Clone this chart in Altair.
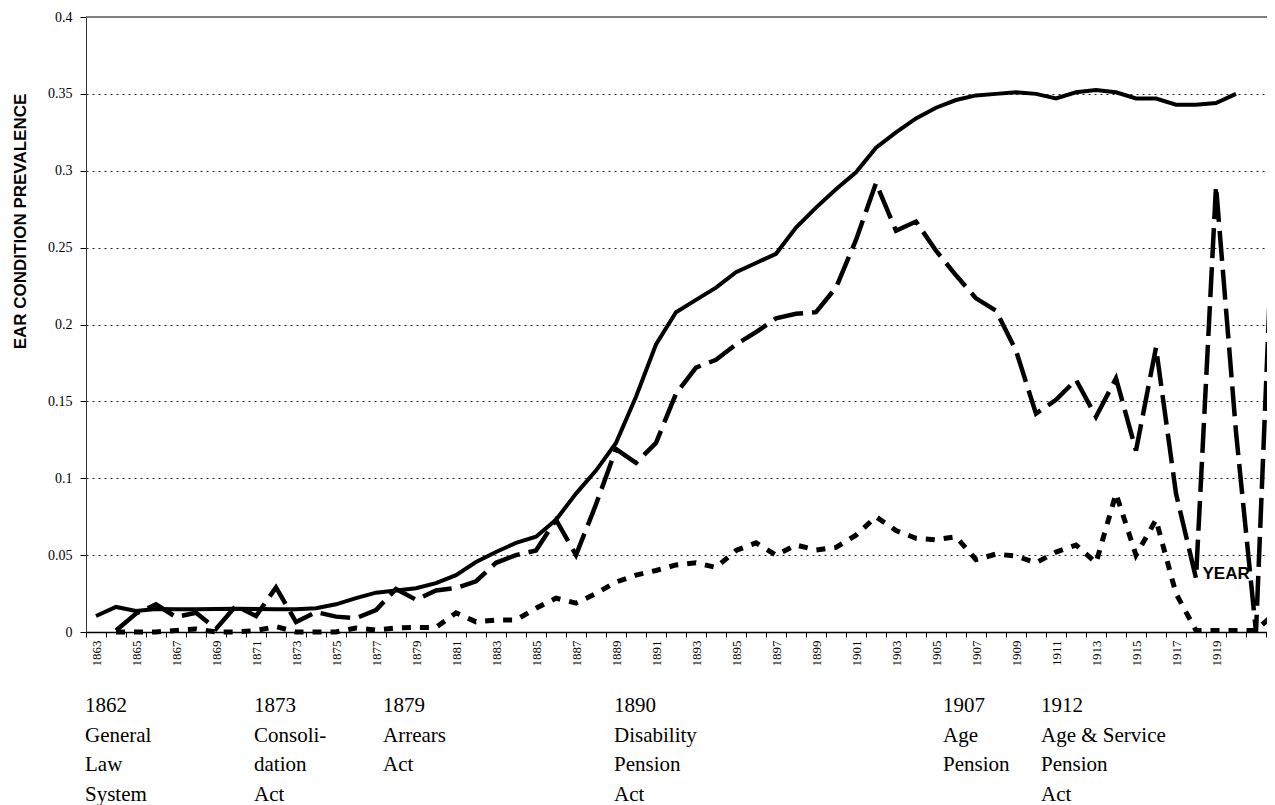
import altair as alt
import pandas as pd

# ---------------- data ----------------
years = list(range(1863, 1923))

solid_line = [
    0.0104, 0.0163, 0.0137, 0.0150, 0.0148, 0.0148, 0.0150, 0.0152, 0.0150, 0.0148,
    0.0148, 0.0154, 0.0180, 0.0220, 0.0256, 0.0270, 0.0285, 0.0318, 0.0370, 0.0455,
    0.0520, 0.0580, 0.0620, 0.0730, 0.0900, 0.1050, 0.1230, 0.1530, 0.1870, 0.2080,
    0.2160, 0.2240, 0.2340, 0.2400, 0.2460, 0.2630, 0.2760, 0.2880, 0.2990, 0.3150,
    0.3250, 0.3340, 0.3410, 0.3460, 0.3490, 0.3500, 0.3510, 0.3500, 0.3470, 0.3510,
    0.3525, 0.3510, 0.3470, 0.3470, 0.3430, 0.3430, 0.3440, 0.3500, None, None,
]

long_dash_line = [
    None, 0.0010, 0.0120, 0.0180, 0.0097, 0.0125, 0.0020, 0.0170, 0.0104, 0.0290,
    0.0065, 0.0130, 0.0100, 0.0090, 0.0143, 0.0280, 0.0210, 0.0270, 0.0286, 0.0330,
    0.0450, 0.0500, 0.0530, 0.0730, 0.0500, 0.0830, 0.1190, 0.1100, 0.1230, 0.1550,
    0.1720, 0.1770, 0.1870, 0.1950, 0.2040, 0.2070, 0.2080, 0.2240, 0.2550, 0.2920,
    0.2610, 0.2670, 0.2480, 0.2320, 0.2170, 0.2090, 0.1830, 0.1420, 0.1510, 0.1640,
    0.1400, 0.1650, 0.1180, 0.1850, 0.0900, 0.0350, 0.2900, 0.1300, 0.0000, 0.3200,
]

short_dash_line = [
    None, 0.0000, 0.0000, 0.0000, 0.0010, 0.0020, 0.0000, 0.0000, 0.0010, 0.0035,
    0.0000, 0.0000, 0.0000, 0.0026, 0.0013, 0.0026, 0.0030, 0.0030, 0.0125, 0.0066,
    0.0078, 0.0078, 0.0155, 0.0220, 0.0188, 0.0250, 0.0325, 0.0370, 0.0400, 0.0436,
    0.0450, 0.0420, 0.0530, 0.0580, 0.0500, 0.0566, 0.0533, 0.0550, 0.0630, 0.0750,
    0.0660, 0.0610, 0.0600, 0.0620, 0.0470, 0.0507, 0.0494, 0.0450, 0.0520, 0.0566,
    0.0450, 0.0900, 0.0500, 0.0730, 0.0250, 0.0010, 0.0010, 0.0010, 0.0010, 0.0130,
]

y_ticks = [0, 0.05, 0.1, 0.15, 0.2, 0.25, 0.3, 0.35, 0.4]
label_years = [y for y in years if y % 2 == 1 and y <= 1919]
band_edges = [y - 0.5 for y in years]

note_heads = ["1862", "1873", "1879", "1890", "1907", "1912"]
note_bodies = [
    ["General", "Law", "System"],
    ["Consoli-", "dation", "Act"],
    ["Arrears", "Act"],
    ["Disability", "Pension", "Act"],
    ["Age", "Pension"],
    ["Age & Service", "Pension", "Act"],
]
note_x = [1862.45, 1870.9, 1877.35, 1888.9, 1905.35, 1910.25]

# ---------------- scales ----------------
W, H = 1181, 615
x_scale = alt.Scale(domain=[1862.5, 1862.5 + W / 20.0], nice=False, zero=False)
y_scale = alt.Scale(domain=[0, 0.4], nice=False, zero=True)

x_axis = alt.Axis(
    values=band_edges + label_years,
    labelExpr="datum.value % 2 == 1 ? toString(datum.value) : ''",
    tickOpacity={"condition": {"test": "datum.value % 1 != 0", "value": 1}, "value": 0},
    grid=False,
    title="YEAR",
    titleX=1116,
    titleY=-54,
)

y_axis = alt.Axis(
    values=y_ticks,
    format="~g",
    grid=True,
    gridOpacity={"condition": {"test": "datum.value <= 0 || datum.value >= 0.4", "value": 0}, "value": 1},
    title="EAR CONDITION PREVALENCE",
    titleX=-61,
    titleY=204,
)


def series_df(values):
    return pd.DataFrame({"year": years, "v": values}).dropna()


solid_df = series_df(solid_line)
long_df = series_df(long_dash_line)
short_df = series_df(short_dash_line)

X = lambda f: alt.X(f, scale=x_scale, axis=x_axis, title="YEAR")
Y = lambda f: alt.Y(f, scale=y_scale, axis=y_axis, title="EAR CONDITION PREVALENCE")

solid_layer = alt.Chart(solid_df).mark_line(color="black", strokeWidth=4).encode(
    x=X("year:Q"), y=Y("v:Q"),
)

long_layer = alt.Chart(long_df).mark_line(
    color="black", strokeWidth=4.5, strokeDash=[30, 9]
).encode(x=X("year:Q"), y=Y("v:Q"))

short_layer = alt.Chart(short_df).mark_line(
    color="black", strokeWidth=5, strokeDash=[9, 9]
).encode(x=X("year:Q"), y=Y("v:Q"))

top_df = pd.DataFrame({"top": [y_ticks[-1]]})
top_rule = alt.Chart(top_df).mark_rule(color="#555555", strokeWidth=1.5).encode(
    y=Y("top:Q"),
)

notes_df = pd.DataFrame({
    "nx": note_x,
    "txt": ["\n".join([h] + b) for h, b in zip(note_heads, note_bodies)],
})
notes_layer = alt.Chart(notes_df).mark_text(
    align="left",
    baseline="alphabetic",
    font="Liberation Serif",
    fontSize=21,
    lineHeight=29.5,
    lineBreak="\n",
    color="black",
).encode(
    x=X("nx:Q"),
    y=alt.value(695),
    text="txt:N",
)

chart = (
    alt.layer(solid_layer, long_layer, short_layer, top_rule, notes_layer)
    .properties(
        width=W,
        height=H,
        autosize=alt.AutoSizeParams(type="none"),
        padding={"left": 78, "top": 9, "right": 0, "bottom": 173},
        background="white",
    )
    .configure_view(stroke=None)
    .configure_axisX(
        labelAngle=270,
        labelFont="Liberation Serif",
        labelFontSize=13,
        labelColor="black",
        labelPadding=3,
        labelOverlap=False,
        labelFlush=False,
        tickSize=5,
        tickColor="black",
        tickWidth=1,
        domainColor="black",
        domainWidth=1.5,
        titleFont="Liberation Sans",
        titleFontWeight="bold",
        titleFontSize=17,
        titleColor="black",
        titleAngle=0,
        titleAlign="left",
        titleBaseline="alphabetic",
    )
    .configure_axisY(
        labelFont="Liberation Serif",
        labelFontSize=14,
        labelColor="black",
        labelPadding=8,
        tickSize=6,
        tickColor="black",
        domainColor="#333333",
        domainWidth=1,
        gridDash=[2, 4],
        gridColor="#222222",
        gridWidth=1,
        titleFont="Liberation Sans",
        titleFontWeight="bold",
        titleFontSize=17,
        titleColor="black",
        titleAngle=270,
        titleAlign="center",
        titleBaseline="alphabetic",
    )
)

chart.save("out.html", embed_options={"renderer": "svg", "actions": False})
